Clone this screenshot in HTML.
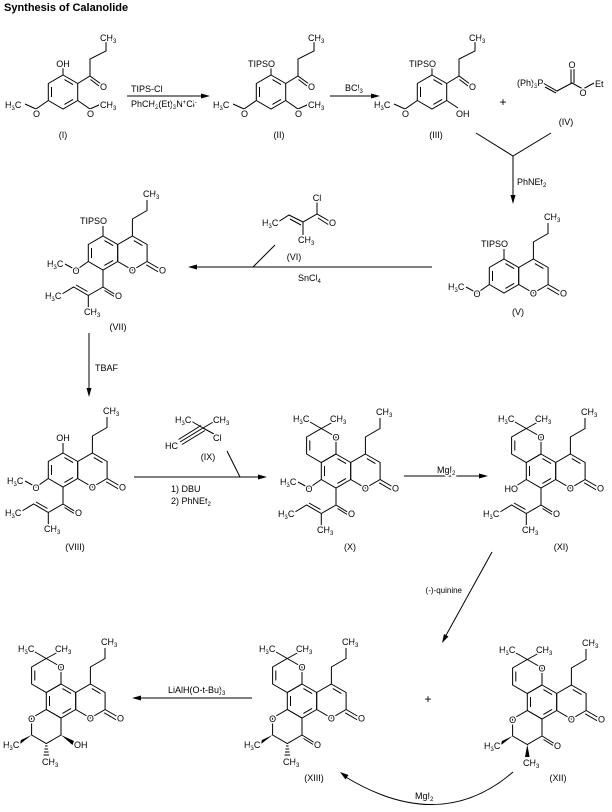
<!DOCTYPE html>
<html><head><meta charset="utf-8"><style>
html,body{margin:0;padding:0;background:#fff;}
svg{display:block;}
.t{font-family:"Liberation Sans",sans-serif;font-size:9px;fill:#000;stroke:#fff;stroke-width:3px;paint-order:stroke;stroke-linejoin:round;}
.s{font-size:6px;}
.b{stroke:#000;stroke-width:1;fill:none;}
</style></head><body>
<svg width="612" height="812" viewBox="0 0 612 812" xmlns="http://www.w3.org/2000/svg">
<defs>
<polygon id="hx" points="0,-17 14.7,-8.5 14.7,8.5 0,17 -14.7,8.5 -14.7,-8.5" fill="none" stroke="#000"/>
<line id="d" x1="11.5" y1="-5" x2="11.5" y2="5" stroke="#000"/>
<g id="benz">
<use href="#hx"/><use href="#d" transform="rotate(180)"/><use href="#d" transform="rotate(-60)"/><use href="#d" transform="rotate(60)"/>
</g>
<g id="coum">
<use href="#benz"/>
<g transform="translate(29.4,0)"><use href="#hx"/><use href="#d" transform="rotate(-60)"/></g>
<path class="b" d="M44.1,8.5 L57,16 M43.2,11.8 L55.5,19 M29.4,-17 L29.4,-34 L44,-42.5 L44,-53"/>
</g>
<g id="chro">
<g transform="translate(-14.7,-25.5)"><use href="#hx"/><use href="#d" transform="rotate(180)"/></g>
<path class="b" d="M-14.7,-42.5 L-26,-49 M-14.7,-42.5 L-3,-49"/>
</g>
<g id="pyr">
<g transform="translate(-14.7,25.5)"><use href="#hx"/></g>
</g>
</defs>

<text x="4" y="11" style="font-family:'Liberation Sans',sans-serif;font-size:11px;font-weight:bold;">Synthesis of Calanolide</text>

<!-- Compound I -->
<g transform="translate(63,92)">
<use href="#benz"/>
<path class="b" d="M0,-17 L0,-24 M14.7,-8.5 L27,-16 L38,-8 M27,-16 L27,-33 L43,-41 L43,-50 M27.5,-12.5 L36,-6 M14.7,8.5 L27,17 L38,12 M-14.7,8.5 L-27,17 L-38,12"/>
<text class="t" x="0" y="-25" text-anchor="middle">OH</text>
<text class="t" x="37" y="-51">CH<tspan class="s" dy="2">3</tspan></text>
<text class="t" x="37" y="-2">O</text>
<text class="t" x="-30" y="25">O</text>
<text class="t" x="24" y="25">O</text>
<text class="t" x="37" y="16">CH<tspan class="s" dy="2">3</tspan></text>
<text class="t" x="-58" y="16">H<tspan class="s" dy="2">3</tspan><tspan dy="-2">C</tspan></text>
<text class="t" x="0" y="46" text-anchor="middle">(I)</text>
</g>

<!-- arrow I->II -->
<path class="b" d="M127,96 L208,96"/><polygon points="210,96 201,93.5 201,98.5"/>
<text class="t" x="131" y="92">TIPS-Cl</text>
<text class="t" x="131" y="107">PhCH<tspan class="s" dy="2">2</tspan><tspan dy="-2">(Et)</tspan><tspan class="s" dy="2">3</tspan><tspan dy="-2">N</tspan><tspan class="s" dy="-3">+</tspan><tspan dy="3">Cl</tspan><tspan class="s" dy="-3">-</tspan></text>

<!-- Compound II -->
<g transform="translate(271,92)">
<use href="#benz"/>
<path class="b" d="M0,-17 L0,-24 M14.7,-8.5 L27,-16 L38,-8 M27,-16 L27,-33 L43,-41 L43,-50 M27.5,-12.5 L36,-6 M14.7,8.5 L27,17 L38,12 M-14.7,8.5 L-27,17 L-38,12"/>
<text class="t" x="4" y="-25" text-anchor="end">TIPSO</text>
<text class="t" x="37" y="-51">CH<tspan class="s" dy="2">3</tspan></text>
<text class="t" x="37" y="-2">O</text>
<text class="t" x="-30" y="25">O</text>
<text class="t" x="24" y="25">O</text>
<text class="t" x="37" y="16">CH<tspan class="s" dy="2">3</tspan></text>
<text class="t" x="-58" y="16">H<tspan class="s" dy="2">3</tspan><tspan dy="-2">C</tspan></text>
<text class="t" x="8" y="46" text-anchor="middle">(II)</text>
</g>

<!-- arrow II->III -->
<path class="b" d="M330,96 L378,96"/><polygon points="380,96 371,93.5 371,98.5"/>
<text class="t" x="345" y="91">BCl<tspan class="s" dy="2">3</tspan></text>

<!-- Compound III -->
<g transform="translate(432,92)">
<use href="#benz"/>
<path class="b" d="M0,-17 L0,-24 M14.7,-8.5 L27,-16 L38,-8 M27,-16 L27,-33 L43,-41 L43,-50 M27.5,-12.5 L36,-6 M14.7,8.5 L26,16 M-14.7,8.5 L-27,17 L-38,12"/>
<text class="t" x="4" y="-25" text-anchor="end">TIPSO</text>
<text class="t" x="37" y="-51">CH<tspan class="s" dy="2">3</tspan></text>
<text class="t" x="37" y="-2">O</text>
<text class="t" x="-30" y="25">O</text>
<text class="t" x="24" y="25">OH</text>
<text class="t" x="-58" y="16">H<tspan class="s" dy="2">3</tspan><tspan dy="-2">C</tspan></text>
<text class="t" x="4" y="46" text-anchor="middle">(III)</text>
</g>
<text class="t" x="503" y="106" text-anchor="middle" style="font-size:12px">+</text>

<!-- IV -->
<path class="b" d="M543,83 L557,91 L572,83 L583,89 L594,83 M545,87 L556,93 M571,83 L571,69 M574,83 L574,69"/>
<text class="t" x="517" y="86">(Ph)<tspan class="s" dy="2">3</tspan><tspan dy="-2">P</tspan></text>
<text class="t" x="572" y="68" text-anchor="middle">O</text>
<text class="t" x="583" y="96" text-anchor="middle">O</text>
<text class="t" x="595" y="87">Et</text>
<text class="t" x="566" y="125" text-anchor="middle">(IV)</text>

<!-- merge + arrow to V -->
<path class="b" d="M476,133 L513,156 L551,133 M513,156 L513,201"/><polygon points="513,204 510.5,195 515.5,195"/>
<text class="t" x="517" y="185">PhNEt<tspan class="s" dy="2">2</tspan></text>

<!-- Compound V -->
<g transform="translate(504,276)">
<use href="#coum"/>
<path class="b" d="M0,-17 L0,-27 M-14.7,8.5 L-27,17 L-38,11"/>
<text class="t" x="4" y="-29" text-anchor="end">TIPSO</text>
<text class="t" x="40" y="-56">CH<tspan class="s" dy="2">3</tspan></text>
<text class="t" x="29.4" y="20.5" text-anchor="middle">O</text>
<text class="t" x="56" y="20.5">O</text>
<text class="t" x="-27" y="21" text-anchor="middle">O</text>
<text class="t" x="-56" y="14">H<tspan class="s" dy="2">3</tspan><tspan dy="-2">C</tspan></text>
<text class="t" x="14" y="39" text-anchor="middle">(V)</text>
</g>

<!-- arrow V->VII -->
<path class="b" d="M432,267 L192,267 M253,267 L275,245"/><polygon points="188,267 197,264.5 197,269.5"/>
<text class="t" x="298" y="281">SnCl<tspan class="s" dy="2">4</tspan></text>
<!-- VI -->
<path class="b" d="M278,222 L289,215 L303,222 L317,214 L331,222 M290,219 L301,225 M303,222 L303,235 M317,214 L317,202 M318,218 L329,225"/>
<text class="t" x="262" y="226">H<tspan class="s" dy="2">3</tspan><tspan dy="-2">C</tspan></text>
<text class="t" x="298" y="243">CH<tspan class="s" dy="2">3</tspan></text>
<text class="t" x="317" y="201" text-anchor="middle">Cl</text>
<text class="t" x="329" y="226">O</text>
<text class="t" x="294" y="260" text-anchor="middle">(VI)</text>

<!-- acyl fragment defs reused inline -->
<!-- Compound VII -->
<g transform="translate(103,253)">
<use href="#coum"/>
<path class="b" d="M0,-17 L0,-27 M-14.7,8.5 L-27,17 L-38,11 M0,17 L0,34 L13,42 M1.5,37.5 L12,44 M0,34 L-14.7,42.5 L-14.7,55 M-14.7,42.5 L-29.4,34 L-41,41 M-15.5,38.5 L-27,32"/>
<text class="t" x="4" y="-29" text-anchor="end">TIPSO</text>
<text class="t" x="40" y="-56">CH<tspan class="s" dy="2">3</tspan></text>
<text class="t" x="29.4" y="20.5" text-anchor="middle">O</text>
<text class="t" x="56" y="20.5">O</text>
<text class="t" x="-27" y="21" text-anchor="middle">O</text>
<text class="t" x="-56" y="14">H<tspan class="s" dy="2">3</tspan><tspan dy="-2">C</tspan></text>
<text class="t" x="12" y="46">O</text>
<text class="t" x="-58" y="46">H<tspan class="s" dy="2">3</tspan><tspan dy="-2">C</tspan></text>
<text class="t" x="-19" y="62">CH<tspan class="s" dy="2">3</tspan></text>
<text class="t" x="15" y="77" text-anchor="middle">(VII)</text>
</g>

<!-- arrow VII->VIII -->
<path class="b" d="M89,333 L89,394"/><polygon points="89,397 86.5,388 91.5,388"/>
<text class="t" x="95" y="371">TBAF</text>

<!-- Compound VIII -->
<g transform="translate(63,470)">
<use href="#coum"/>
<path class="b" d="M0,-17 L0,-27 M-14.7,8.5 L-27,17 L-38,11 M0,17 L0,34 L13,42 M1.5,37.5 L12,44 M0,34 L-14.7,42.5 L-14.7,55 M-14.7,42.5 L-29.4,34 L-41,41 M-15.5,38.5 L-27,32"/>
<text class="t" x="0" y="-29" text-anchor="middle">OH</text>
<text class="t" x="40" y="-56">CH<tspan class="s" dy="2">3</tspan></text>
<text class="t" x="29.4" y="20.5" text-anchor="middle">O</text>
<text class="t" x="56" y="20.5">O</text>
<text class="t" x="-27" y="21" text-anchor="middle">O</text>
<text class="t" x="-56" y="14">H<tspan class="s" dy="2">3</tspan><tspan dy="-2">C</tspan></text>
<text class="t" x="12" y="46">O</text>
<text class="t" x="-58" y="46">H<tspan class="s" dy="2">3</tspan><tspan dy="-2">C</tspan></text>
<text class="t" x="-19" y="62">CH<tspan class="s" dy="2">3</tspan></text>
<text class="t" x="12" y="80" text-anchor="middle">(VIII)</text>
</g>

<!-- arrow VIII->X with IX -->
<path class="b" d="M134,477 L264,477 M240,477 L227,451"/><polygon points="267,477 258,474.5 258,479.5"/>
<text class="t" x="171" y="492">1) DBU</text>
<text class="t" x="171" y="504">2) PhNEt<tspan class="s" dy="2">2</tspan></text>
<path class="b" d="M203,428 L191,421 M203,428 L215,421 M203,428 L214,434 M203,428 L180,442 M201,425.5 L178.5,439.5 M205,430.5 L182,444.5"/>
<text class="t" x="175" y="423">H<tspan class="s" dy="2">3</tspan><tspan dy="-2">C</tspan></text>
<text class="t" x="213" y="423">CH<tspan class="s" dy="2">3</tspan></text>
<text class="t" x="213" y="441">Cl</text>
<text class="t" x="178" y="449" text-anchor="end">HC</text>
<text class="t" x="208" y="460" text-anchor="middle">(IX)</text>

<!-- Compound X -->
<g transform="translate(336,471)">
<use href="#coum"/><use href="#chro"/>
<path class="b" d="M-14.7,8.5 L-27,17 L-38,11 M0,17 L0,34 L13,42 M1.5,37.5 L12,44 M0,34 L-14.7,42.5 L-14.7,55 M-14.7,42.5 L-29.4,34 L-41,41 M-15.5,38.5 L-27,32"/>
<text class="t" x="0" y="-30.5" text-anchor="middle">O</text>
<text class="t" x="-43" y="-49">H<tspan class="s" dy="2">3</tspan><tspan dy="-2">C</tspan></text>
<text class="t" x="-6" y="-49">CH<tspan class="s" dy="2">3</tspan></text>
<text class="t" x="40" y="-56">CH<tspan class="s" dy="2">3</tspan></text>
<text class="t" x="29.4" y="20.5" text-anchor="middle">O</text>
<text class="t" x="56" y="20.5">O</text>
<text class="t" x="-27" y="21" text-anchor="middle">O</text>
<text class="t" x="-56" y="14">H<tspan class="s" dy="2">3</tspan><tspan dy="-2">C</tspan></text>
<text class="t" x="12" y="46">O</text>
<text class="t" x="-58" y="46">H<tspan class="s" dy="2">3</tspan><tspan dy="-2">C</tspan></text>
<text class="t" x="-19" y="62">CH<tspan class="s" dy="2">3</tspan></text>
<text class="t" x="14" y="79" text-anchor="middle">(X)</text>
</g>

<!-- arrow X->XI -->
<path class="b" d="M404,476 L485,476"/><polygon points="488,476 479,473.5 479,478.5"/>
<text class="t" x="437" y="473">MgI<tspan class="s" dy="2">2</tspan></text>

<!-- Compound XI -->
<g transform="translate(541,471)">
<use href="#coum"/><use href="#chro"/>
<path class="b" d="M-14.7,8.5 L-25,15 M0,17 L0,34 L13,42 M1.5,37.5 L12,44 M0,34 L-14.7,42.5 L-14.7,55 M-14.7,42.5 L-29.4,34 L-41,41 M-15.5,38.5 L-27,32"/>
<text class="t" x="0" y="-30.5" text-anchor="middle">O</text>
<text class="t" x="-43" y="-49">H<tspan class="s" dy="2">3</tspan><tspan dy="-2">C</tspan></text>
<text class="t" x="-6" y="-49">CH<tspan class="s" dy="2">3</tspan></text>
<text class="t" x="40" y="-56">CH<tspan class="s" dy="2">3</tspan></text>
<text class="t" x="29.4" y="20.5" text-anchor="middle">O</text>
<text class="t" x="56" y="20.5">O</text>
<text class="t" x="-23" y="21" text-anchor="end">HO</text>
<text class="t" x="12" y="46">O</text>
<text class="t" x="-58" y="46">H<tspan class="s" dy="2">3</tspan><tspan dy="-2">C</tspan></text>
<text class="t" x="-19" y="62">CH<tspan class="s" dy="2">3</tspan></text>
<text class="t" x="20" y="79" text-anchor="middle">(XI)</text>
</g>

<!-- arrow XI->XIII -->
<path class="b" d="M492,552 L444,639"/><polygon points="442,643 444,634 448.5,636.5"/>
<text class="t" x="462" y="593" text-anchor="end" style="font-size:8px">(-)-quinine</text>

<!-- Final compound -->
<g transform="translate(61,701)">
<use href="#coum"/><use href="#chro"/><use href="#pyr"/>
<path class="b" d="M-14.7,-1 L-14.7,-1"/>
<polygon points="0,34 13,40 11.5,44"/>
<polygon points="-29.4,34 -40,39 -41.5,43.5"/>
<path class="b" d="M-16,45 L-13.4,45 M-16.5,48 L-12.9,48 M-17,51 L-12.4,51 M-17.5,54 L-11.9,54"/>
<text class="t" x="0" y="-30.5" text-anchor="middle">O</text>
<text class="t" x="-43" y="-49">H<tspan class="s" dy="2">3</tspan><tspan dy="-2">C</tspan></text>
<text class="t" x="-6" y="-49">CH<tspan class="s" dy="2">3</tspan></text>
<text class="t" x="40" y="-56">CH<tspan class="s" dy="2">3</tspan></text>
<text class="t" x="29.4" y="20.5" text-anchor="middle">O</text>
<text class="t" x="56" y="20.5">O</text>
<text class="t" x="-29.4" y="21" text-anchor="middle">O</text>
<text class="t" x="13" y="47">OH</text>
<text class="t" x="-58" y="47">H<tspan class="s" dy="2">3</tspan><tspan dy="-2">C</tspan></text>
<text class="t" x="-19" y="64">CH<tspan class="s" dy="2">3</tspan></text>
</g>

<!-- arrow XIII->final -->
<path class="b" d="M252,698 L136,698"/><polygon points="132,698 141,695.5 141,700.5"/>
<text class="t" x="168" y="693">LiAlH(O-t-Bu)<tspan class="s" dy="2">3</tspan></text>

<!-- Compound XIII -->
<g transform="translate(302,701)">
<use href="#coum"/><use href="#chro"/><use href="#pyr"/>
<path class="b" d="M0,34 L13,42 M1.5,37.5 L12,44"/>
<polygon points="-29.4,34 -40,39 -41.5,43.5"/>
<path class="b" d="M-16,45 L-13.4,45 M-16.5,48 L-12.9,48 M-17,51 L-12.4,51 M-17.5,54 L-11.9,54"/>
<text class="t" x="0" y="-30.5" text-anchor="middle">O</text>
<text class="t" x="-43" y="-49">H<tspan class="s" dy="2">3</tspan><tspan dy="-2">C</tspan></text>
<text class="t" x="-6" y="-49">CH<tspan class="s" dy="2">3</tspan></text>
<text class="t" x="40" y="-56">CH<tspan class="s" dy="2">3</tspan></text>
<text class="t" x="29.4" y="20.5" text-anchor="middle">O</text>
<text class="t" x="56" y="20.5">O</text>
<text class="t" x="-29.4" y="21" text-anchor="middle">O</text>
<text class="t" x="12" y="47">O</text>
<text class="t" x="-58" y="47">H<tspan class="s" dy="2">3</tspan><tspan dy="-2">C</tspan></text>
<text class="t" x="-19" y="64">CH<tspan class="s" dy="2">3</tspan></text>
<text class="t" x="12" y="80" text-anchor="middle">(XIII)</text>
</g>

<text class="t" x="428" y="703" text-anchor="middle" style="font-size:12px">+</text>

<!-- Compound XII -->
<g transform="translate(542,702)">
<use href="#coum"/><use href="#chro"/><use href="#pyr"/>
<path class="b" d="M0,34 L13,42 M1.5,37.5 L12,44"/>
<polygon points="-29.4,34 -40,39 -41.5,43.5"/>
<polygon points="-14.7,42.5 -17,55 -12.4,55"/>
<text class="t" x="0" y="-30.5" text-anchor="middle">O</text>
<text class="t" x="-43" y="-49">H<tspan class="s" dy="2">3</tspan><tspan dy="-2">C</tspan></text>
<text class="t" x="-6" y="-49">CH<tspan class="s" dy="2">3</tspan></text>
<text class="t" x="40" y="-56">CH<tspan class="s" dy="2">3</tspan></text>
<text class="t" x="29.4" y="20.5" text-anchor="middle">O</text>
<text class="t" x="56" y="20.5">O</text>
<text class="t" x="-29.4" y="21" text-anchor="middle">O</text>
<text class="t" x="12" y="47">O</text>
<text class="t" x="-58" y="47">H<tspan class="s" dy="2">3</tspan><tspan dy="-2">C</tspan></text>
<text class="t" x="-19" y="64">CH<tspan class="s" dy="2">3</tspan></text>
<text class="t" x="16" y="79" text-anchor="middle">(XII)</text>
</g>

<!-- curved arrow XII->XIII -->
<path class="b" d="M513,772 Q440,835 344,776"/><polygon points="340,772 348.5,775 345.5,779.5"/>
<text class="t" x="415" y="799">MgI<tspan class="s" dy="2">2</tspan></text>
</svg>
</body></html>
